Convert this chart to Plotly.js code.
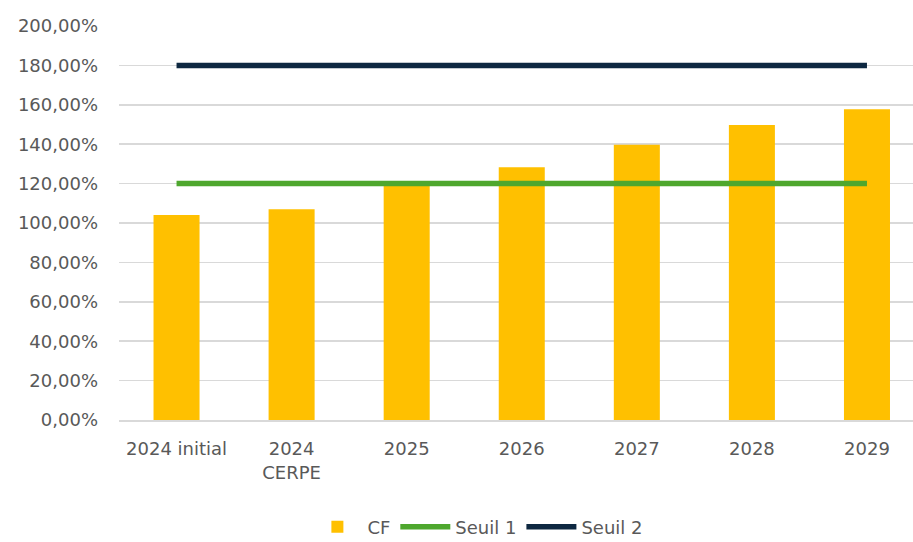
<!DOCTYPE html>
<html>
<head>
<meta charset="utf-8">
<script src="https://cdn.plot.ly/plotly-3.0.1.min.js"></script>
<style>html,body{margin:0;padding:0;background:#fff;}#chart{width:913px;height:542px;}</style>
</head>
<body>
<div id="chart"></div>
<script>
const categories = ["2024 initial", "2024<br>CERPE", "2025", "2026", "2027", "2028", "2029"];
const cfValues = [1.04, 1.07, 1.195, 1.283, 1.397, 1.497, 1.578];
const seuil1 = [1.20, 1.20, 1.20, 1.20, 1.20, 1.20, 1.20];
const seuil2 = [1.80, 1.80, 1.80, 1.80, 1.80, 1.80, 1.80];

const fontFamily = "DejaVu Sans, Liberation Sans, Arial, sans-serif";
const textColor = "#595959";

const traces = [
  {type: "bar", name: "CF", x: categories, y: cfValues, width: 0.4,
   marker: {color: "#FFC000"}},
  {type: "scatter", mode: "lines", name: "Seuil 1", x: categories, y: seuil1,
   line: {color: "#4EA72E", width: 5.5}},
  {type: "scatter", mode: "lines", name: "Seuil 2", x: categories, y: seuil2,
   line: {color: "#0E2841", width: 5.5}}
];

const layout = {
  width: 913, height: 542,
  margin: {l: 119, r: 0, t: 26, b: 122, pad: 0, autoexpand: false},
  paper_bgcolor: "#ffffff", plot_bgcolor: "#ffffff",
  separators: ", ",
  font: {family: fontFamily, size: 18, color: textColor},
  showlegend: true,
  legend: {orientation: "h", x: 0.452, xanchor: "center", y: -0.272, yanchor: "middle",
           font: {family: fontFamily, size: 18, color: textColor}, itemwidth: 50, traceorder: "normal"},
  xaxis: {type: "category", range: [-0.5, 6.4], showgrid: false, zeroline: false, automargin: false,
          showline: true, linecolor: "#d9d9d9", linewidth: 1.5, ticks: "", ticklabelstandoff: 12,
          tickfont: {family: fontFamily, size: 18, color: textColor}, fixedrange: true},
  yaxis: {range: [0, 2], dtick: 0.2, tick0: 0, tickformat: ".2%", showgrid: true, gridcolor: "#d9d9d9",
          gridwidth: 1.5, zeroline: false, showline: false, ticks: "", ticklabelstandoff: 20, automargin: false,
          tickfont: {family: fontFamily, size: 18, color: textColor}, fixedrange: true}
};

Plotly.newPlot("chart", traces, layout, {displayModeBar: false, staticPlot: true});
</script>
</body>
</html>
